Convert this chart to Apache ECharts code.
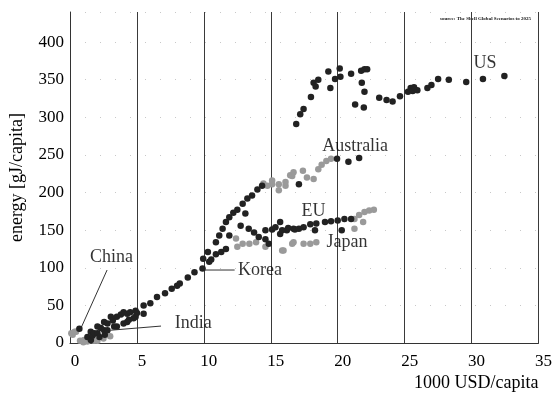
<!DOCTYPE html>
<html>
<head>
<meta charset="utf-8">
<script src="https://cdn.jsdelivr.net/npm/echarts@6/dist/echarts.min.js"></script>
<style>html,body{margin:0;padding:0;background:#fff}#c{width:555px;height:394px}</style>
</head>
<body>
<div id="c"></div>
<script>
// ---- data (x: 1000 USD/capita, y: energy GJ/capita) ----
const xTicks = [0, 5, 10, 15, 20, 25, 30, 35];
const yTicks = [0, 50, 100, 150, 200, 250, 300, 350, 400];

const us = [[16.9,291],[17.2,304],[17.45,311],[18.0,327],[18.2,346],[18.35,341],[18.55,350],[19.3,361],[19.45,339],[19.8,351],[20.15,365],[20.2,354],[21.0,358],[21.3,317],[21.75,362],[21.8,346],[22.0,364],[22.2,364],[22.0,334],[21.95,313],[23.1,326],[23.65,323],[24.1,321],[24.65,328],[25.25,334],[25.45,339],[25.6,335],[25.7,340],[25.95,336],[26.7,339],[27.0,343],[27.5,351],[28.3,350],[29.6,347],[30.85,351],[32.45,355]];

const australia = [[14.45,212],[14.75,209],[15.1,211],[15.1,216],[15.6,203],[15.6,211],[16.1,209],[16.1,214],[16.45,223],[16.6,222],[16.7,227],[17.4,229],[17.7,220],[18.2,218],[18.55,231],[18.8,237],[19.15,242],[19.5,245]];
const australiaLate = [[17.1,211],[19.95,245],[20.8,241],[21.6,246]];

const korea = [[5.5,39],[5.5,50],[6.0,53],[6.5,61],[7.1,66],[7.6,72],[8.0,76],[8.2,79],[8.8,87],[9.3,94],[9.9,99],[9.95,112],[10.3,121],[10.4,108],[10.55,111],[10.9,118],[10.9,134],[11.15,143],[11.3,121],[11.4,152],[11.65,125],[11.65,161],[11.9,143],[11.9,167],[12.2,173],[12.5,177],[12.9,185],[13.1,172],[13.25,192],[13.6,196],[14.0,204],[14.35,209]];

const eu = [[12.75,156],[13.35,152],[13.75,147],[14.1,141],[14.6,138],[14.85,132],[14.6,150],[15.1,151],[15.35,154],[15.7,161],[15.7,145],[15.85,150],[16.2,150],[16.3,153],[16.7,152],[16.8,151],[17.1,152],[17.45,154],[17.95,158],[18.3,150],[18.4,159],[19.05,161],[19.5,162],[20.0,163],[20.3,150],[20.5,165],[21.0,165]];

const japan = [[12.4,139],[12.5,128],[12.9,132],[13.4,132],[13.9,134],[14.6,128],[15.85,123],[15.95,123],[16.6,132],[16.7,134],[17.45,132],[17.95,132],[18.4,134],[21.25,152],[21.25,165],[21.6,170],[21.9,161],[22.0,174],[22.35,176],[22.7,177]];

const china = [[0.7,19],[1.3,8],[1.55,15],[1.56,4],[1.7,10],[1.8,13],[2.05,13],[2.05,22],[2.2,8],[2.3,20],[2.55,17],[2.55,28],[2.6,11],[2.8,17],[2.8,26],[3.05,35],[3.2,30],[3.3,22],[3.5,22],[3.5,35],[3.8,38],[4.0,26],[4.0,41],[4.27,28],[4.27,39],[4.4,31],[4.5,41],[4.75,33],[4.9,35],[4.9,43],[5.0,40]];

const india = [[0.1,13],[0.2,11],[0.35,15],[0.45,15],[0.75,3],[1.0,1],[1.05,4],[1.3,2],[1.55,4],[1.8,3],[2.05,3],[2.3,20],[2.5,6],[3.0,9]];

const labelNames = ['US', 'Australia', 'EU', 'Japan', 'China', 'Korea', 'India'];
const labelPoints = [[31.0,372],[21.3,262],[18.2,175],[20.7,134],[3.1,114],[14.2,97],[9.2,26]];

const leaderChina = [[2.77,97],[0.85,21]];
const leaderKorea = [[9.7,97],[12.3,97]];
const leaderIndia = [[6.8,22.5],[3.05,17]];

// ---- chart ----
const DARK = '#222222', GRAY = '#9a9a9a', FONT = 'Liberation Serif';
const chart = echarts.init(document.getElementById('c'), null, {renderer: 'canvas'});

function scatter(name, data, color) {
  return {name, type: 'scatter', data, symbol: 'circle', symbolSize: 6.5,
    itemStyle: {color, opacity: 1}, silent: true, z: 3};
}
function leader(data) {
  return {type: 'line', data, symbol: 'none', silent: true,
    lineStyle: {color: '#333', width: 1}, z: 2};
}

chart.setOption({
  animation: false,
  backgroundColor: '#fff',
  grid: {left: 65, right: 16, top: 12, bottom: 51, containLabel: false},
  xAxis: {
    type: 'value', min: xTicks[0], max: xTicks[xTicks.length - 1], interval: 5,
    name: '1000 USD/capita', nameLocation: 'end', nameGap: 0,
    nameTextStyle: {fontFamily: FONT, fontSize: 18, color: '#000', align: 'right', verticalAlign: 'top', padding: [31, 0, 0, 0]},
    axisLine: {show: true, lineStyle: {color: '#333', width: 1}},
    axisTick: {show: false},
    axisLabel: {fontFamily: FONT, fontSize: 17, color: '#000', margin: 10, padding: [0, 0, 0, 10]},
    splitLine: {show: true, lineStyle: {color: '#3a3a3a', width: 1}}
  },
  yAxis: {
    type: 'value', min: 0, max: 440, interval: 50,
    name: 'energy [gJ/capita]', nameLocation: 'middle', nameGap: 44, nameRotate: 90,
    nameTextStyle: {fontFamily: FONT, fontSize: 18, color: '#000'},
    axisLine: {show: true, lineStyle: {color: '#333', width: 1}},
    axisTick: {show: false},
    axisLabel: {fontFamily: FONT, fontSize: 17, color: '#000', margin: 6,
      formatter: v => (yTicks.indexOf(v) >= 0 ? String(v) : '')},
    splitLine: {show: true, lineStyle: {color: '#c8c8c8', width: 1, type: [1, 14]}}
  },
  graphic: [{
    type: 'text', right: 24, top: 16, silent: true,
    style: {text: 'source: The Shell Global Scenarios to 2025', font: 'bold 5px ' + FONT, fill: '#111'}
  }],
  series: [
    scatter('US', us, DARK),
    scatter('Australia', australia, GRAY),
    scatter('Australia late', australiaLate, DARK),
    scatter('Japan', japan, GRAY),
    scatter('EU', eu, DARK),
    scatter('Korea', korea, DARK),
    scatter('India', india, GRAY),
    scatter('China', china, DARK),
    leader(leaderChina), leader(leaderKorea), leader(leaderIndia),
    {
      type: 'scatter', symbolSize: 0, silent: true, z: 5,
      data: labelNames.map((n, i) => ({name: n, value: labelPoints[i]})),
      label: {show: true, position: 'inside', formatter: p => p.name,
        fontFamily: FONT, fontSize: 18, color: '#000'}
    }
  ]
});
</script>
</body>
</html>
